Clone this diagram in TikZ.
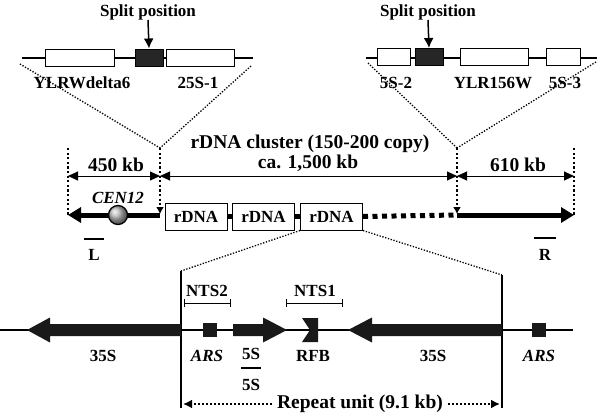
\documentclass[tikz,border=0pt]{standalone}
\usepackage{fontspec}
\setmainfont{Liberation Serif}
\usetikzlibrary{arrows.meta,calc}
\tikzset{
	lbl/.style={font=\fontsize{17}{19}\selectfont\bfseries, inner sep=0pt},
	biglbl/.style={font=\fontsize{19.5}{21}\selectfont\bfseries, inner sep=0pt},
	itlbl/.style={font=\fontsize{17}{19}\selectfont\bfseries\itshape, inner sep=0pt},
	genebox/.style={draw, line width=1pt, fill=white, minimum height=17, inner sep=0pt},
	splitbox/.style={draw, line width=1pt, fill=black!85, minimum height=17, minimum width=28, inner sep=0pt},
	rdnabox/.style={draw, line width=1pt, fill=white, minimum width=62, minimum height=27, inner sep=0pt, lbl},
	zoomline/.style={line width=1.3pt, dash pattern=on 1.3pt off 1.6pt},
	cutline/.style={line width=2.2pt, dash pattern=on 2.2pt off 2.4pt},
	dimline/.style={line width=1pt, {Triangle[length=10pt,width=9pt]}-{Triangle[length=10pt,width=9pt]}},
	chromo/.style={line width=5pt},
	gene/.style={fill=black!90},
	probe/.style={line width=2.5pt}
}
\def\genearrow(#1,#2)(#3,#4)#5{\fill[gene] (#1,#2-6) -- (#3,#2-6) -- (#3,#2-12.5) -- (#4,#2) -- (#3,#2+12.5) -- (#3,#2+6) -- (#1,#2+6) -- cycle;}
\begin{document}
\begin{tikzpicture}[x=1pt, y=-1pt]
			%%%%% START %%%%%
			\useasboundingbox (0,0) rectangle (598,415);
			
			% left split region
			\draw[line width=1.3pt] (22,58) -- (253,58);
			\node[genebox, minimum width=69] (ylrw) at (79.5,57.5) {};
			\node[splitbox] (splitL) at (149,57.5) {};
			\node[genebox, minimum width=68] (s251) at (200,57.5) {};
			\node[lbl] (ylrwtxt) at (82,83) {YLRWdelta6};
			\node[lbl] (s251txt) at (198,83) {25S-1};
			\node[lbl] (splitLtxt) at (148,12) {Split position};
			\draw[line width=1.5pt, -{Latex[length=10pt,width=10pt]}] (splitLtxt.south) -- (splitL.north);
			
			% right split region
			\draw[line width=1.3pt] (366,58) -- (597,58);
			\node[genebox, minimum width=33] (s52) at (393.5,57) {};
			\node[splitbox] (splitR) at (429,57) {};
			\node[genebox, minimum width=68] (ylr156) at (494,57) {};
			\node[genebox, minimum width=34] (s53) at (563,57) {};
			\node[lbl] (s52txt) at (396,83) {5S-2};
			\node[lbl] (ylr156txt) at (493,83) {YLR156W};
			\node[lbl] (s53txt) at (565,83) {5S-3};
			\node[lbl] (splitRtxt) at (428,12) {Split position};
			\draw[line width=1.5pt, -{Latex[length=10pt,width=10pt]}] (splitRtxt.south) -- (splitR.north);
			
			% chromosome XII
			\coordinate (endL) at (68,215);
			\coordinate (jL) at (160,215);
			\coordinate (jR) at (457,215);
			\coordinate (endR) at (574,215);
			
			\draw[zoomline] (20,64) -- ($(jL)+(0,-67)$);
			\draw[zoomline] (251,66) -- ($(jL)+(0,-67)$);
			\draw[zoomline] (368,63) -- ($(jR)+(0,-67)$);
			\draw[zoomline] (596,62) -- ($(jR)+(0,-67)$);
			
			\draw[cutline] ($(endL)+(0,-67)$) -- (endL);
			\draw[cutline] ($(endR)+(0,-67)$) -- (endR);
			\draw[cutline, -{Latex[length=7pt,width=8pt]}] ($(jL)+(0,-67)$) -- ($(jL)+(0,-1)$);
			\draw[cutline, -{Latex[length=7pt,width=8pt]}] ($(jR)+(0,-67)$) -- ($(jR)+(0,-1)$);
			
			\draw[dimline] ($(endL)+(0,-39)$) -- ($(jL)+(0,-39)$);
			\draw[dimline] ($(jL)+(0,-39)$) -- ($(jR)+(0,-39)$);
			\draw[dimline] ($(jR)+(0,-39)$) -- ($(endR)+(0,-39)$);
			\node[biglbl] (len450) at (116,165) {450 kb};
			\node[biglbl] (len610) at (518,165) {610 kb};
			\node[biglbl] (cluster) at (310,144) {rDNA cluster (150-200 copy)};
			\node[biglbl] (len1500) at (308,163) {ca. 1,500 kb};
			
			\draw[chromo, -{Triangle[length=13pt,width=15pt]}] (jL) -- (endL);
			\node[circle, draw, line width=1.3pt, minimum size=19, inner sep=0pt, ball color=gray!55] (cen) at (118,215) {};
			\node[itlbl] (centxt) at (118,198) {CEN12};
			
			\node[rdnabox] (r1) at (196,216.5) {rDNA};
			\node[rdnabox] (r2) at (263.5,216.5) {rDNA};
			\node[rdnabox] (r3) at (331.5,216.5) {rDNA};
			\draw[chromo] (r1.east) -- (r2.west);
			\draw[chromo] (r2.east) -- (r3.west);
			\draw[chromo, dash pattern=on 5pt off 4.5pt] (r3.east) -- (jR);
			\draw[chromo, -{Triangle[length=13pt,width=15pt]}] (jR) -- (endR);
			
			\draw[probe] (84,239) -- (104,239);
			\node[lbl] (probeL) at (94,255) {L};
			\draw[probe] (534,238) -- (556,238);
			\node[lbl] (probeR) at (545,255) {R};
			
			% one repeat unit
			\coordinate (uL) at (181,271);
			\coordinate (uR) at (502,275);
			\draw[zoomline] (r3.south west) -- (uL);
			\draw[zoomline] (r3.south east) -- (uR);
			\draw[line width=1.5pt] (uL) -- (181,408);
			\draw[line width=1.5pt] (uR) -- (502,408);
			
			\draw[line width=1.5pt] (0,330) -- (573,330);
			\genearrow(181,330)(50,27){}
			\genearrow(233,330)(263,287){}
			\genearrow(502,330)(372,348){}
			\fill[gene] (302,318) -- (318,318) -- (318,342) -- (302,342) -- (310,330) -- cycle;
			\node[fill=black!90, minimum size=14, inner sep=0pt] (ars1) at (210,330) {};
			\node[fill=black!90, minimum size=14, inner sep=0pt] (ars2) at (539,330) {};
			
			\draw[line width=1pt, {Bar[width=8pt]}-{Bar[width=8pt]}] (184,303) -- (231,303);
			\node[lbl] (nts2) at (207,291) {NTS2};
			\draw[line width=1pt, {Bar[width=8pt]}-{Bar[width=8pt]}] (286,303) -- (343,303);
			\node[lbl] (nts1) at (315,291) {NTS1};
			
			\node[lbl] (t35a) at (103,356) {35S};
			\node[itlbl] (tars1) at (207,356) {ARS};
			\node[lbl] (t5s) at (251,354) {5S};
			\node[lbl] (trfb) at (313,356) {RFB};
			\node[lbl] (t35b) at (433,356) {35S};
			\node[itlbl] (tars2) at (539,356) {ARS};
			\draw[probe] (241,368) -- (261,368);
			\node[lbl] (probe5s) at (251,385) {5S};
			
			\node[biglbl] (unit) at (360,404) {Repeat unit (9.1 kb)};
			\draw[line width=2pt, dash pattern=on 2pt off 2pt, -{Latex[length=9pt,width=9pt]}] ($(unit.west)+(-5,0)$) -- (183,404);
			\draw[line width=2pt, dash pattern=on 2pt off 2pt, -{Latex[length=9pt,width=9pt]}] ($(unit.east)+(5,0)$) -- (500,404);
			%%%%% END %%%%%
\end{tikzpicture}
\end{document}
